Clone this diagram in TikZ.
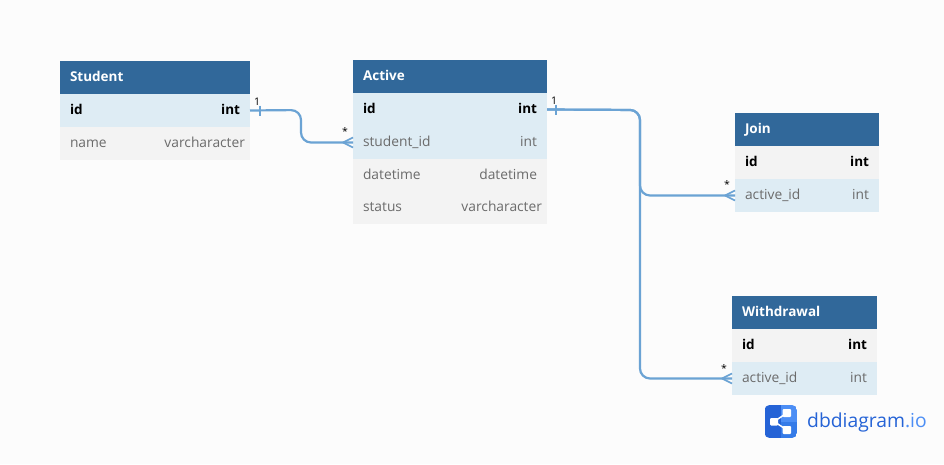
\documentclass[tikz,border=0pt]{standalone}
\usepackage{fontspec}
\setmainfont{Open Sans}
\usetikzlibrary{positioning,calc}
\definecolor{headblue}{HTML}{31689A}
\definecolor{linkrow}{HTML}{DEECF4}
\definecolor{plainrow}{HTML}{F3F3F3}
\definecolor{relblue}{HTML}{6BA3D4}
\definecolor{logodark}{HTML}{2563D6}
\definecolor{logomid}{HTML}{357BE8}
\definecolor{logolight}{HTML}{4C8EF5}
\definecolor{paper}{HTML}{FCFCFC}

\begin{document}
\begin{tikzpicture}[
  x=1pt, y=-1pt,
  cell/.style={anchor=north west, inner xsep=10pt, inner ysep=0pt, outer sep=0pt,
    minimum height=33pt, text height=11pt, text depth=2.5pt, font=\fontsize{13.8}{15}\selectfont},
  header/.style={cell, fill=headblue, text=white, font=\fontsize{13.5}{15}\selectfont\bfseries},
  keyrow/.style={font=\fontsize{13.5}{15}\selectfont\bfseries, text=black},
  fieldrow/.style={text=black!58},
  link/.style={fill=linkrow},
  plain/.style={fill=plainrow},
  rel/.style={draw=relblue, line width=2.2pt, rounded corners=10pt},
  card/.style={inner sep=0pt, font=\fontsize{10.5}{11}\selectfont, text=black},
  crow/.pic={
    \draw[relblue, line width=1.6pt] (-10,0) -- (0,-5) (-10,0) -- (0,5);
  },
  onetick/.pic={
    \draw[relblue, line width=1.6pt] (0,-5) -- (0,5);
  }
]
  \useasboundingbox[fill=paper] (0,0) rectangle (944,464);

  % Student
  \node[header, text width=170pt] (student) at (60,61) {Student};
  \node[cell, keyrow, link, text width=170pt, below=0pt of student] (studentid) {id\hfill int};
  \node[cell, fieldrow, plain, text width=170pt, below=0pt of studentid] (studentname) {name\hfill varcharacter\hspace*{-5pt}};

  % Active
  \node[header, text width=174pt] (active) at (353,60) {Active};
  \node[cell, keyrow, link, text width=174pt, below=0pt of active] (activeid) {id\hfill int};
  \node[cell, fieldrow, link, text width=174pt, below=0pt of activeid] (activestudent) {student\_id\hfill int};
  \node[cell, fieldrow, plain, text width=174pt, below=0pt of activestudent, minimum height=32pt] (activedate) {datetime\hfill datetime};
  \node[cell, fieldrow, plain, text width=174pt, below=0pt of activedate] (activestatus) {status\hfill varcharacter\hspace*{-5pt}};

  % Join
  \node[header, text width=124pt] (join) at (735,113) {Join};
  \node[cell, keyrow, plain, text width=124pt, below=0pt of join] (joinid) {id\hfill int};
  \node[cell, fieldrow, link, text width=124pt, below=0pt of joinid] (joinactive) {active\_id\hfill int};

  % Withdrawal
  \node[header, text width=125pt] (withdrawal) at (732,296) {Withdrawal};
  \node[cell, keyrow, plain, text width=125pt, below=0pt of withdrawal] (withdrawalid) {id\hfill int};
  \node[cell, fieldrow, link, text width=125pt, below=0pt of withdrawalid] (withdrawalactive) {active\_id\hfill int};

  % relations
  \coordinate (bendA) at (301,110);
  \coordinate (bendB) at (640,110);
  \draw[rel] (studentid.east) -- (bendA) |- (activestudent.west);
  \draw[rel] (activeid.east) -- (bendB) |- (joinactive.west);
  \draw[rel] (activeid.east) -- (bendB) |- (withdrawalactive.west);

  \pic at ($(studentid.east)+(10,0)$) {onetick};
  \pic at ($(activeid.east)+(9,0)$) {onetick};
  \pic at (activestudent.west) {crow};
  \pic at (joinactive.west) {crow};
  \pic at (withdrawalactive.west) {crow};

  \node[card] (oneA) at (257,102) {1};
  \node[card] (oneB) at (554,101) {1};
  \node[card] (manyA) at (345,132) {*};
  \node[card] (manyB) at (727,185) {*};
  \node[card] (manyC) at (724,369) {*};

  % logo
  \begin{scope}
    \clip[rounded corners=5pt] (764.5,405) rectangle (797,438);
    \fill[logodark] (764.5,405) rectangle (781,438);
    \fill[logolight] (781,405) rectangle (797,421.5);
    \fill[logomid] (781,421.5) rectangle (797,438);
  \end{scope}
  \draw[white, line width=1.5pt] (774,421.5) -- (787,413) (774,421.5) -- (787,430);
  \fill[white, rounded corners=1pt] (770,418) rectangle (778,425.5)
    (782.5,409) rectangle (791,417) (782.5,426) rectangle (791,434);
  \node[inner sep=0pt, anchor=west, font=\fontsize{19.3}{22}\selectfont] (brand) at (807,422)
    {\textcolor{logodark}{dbdiagram}\textcolor{logolight}{.io}};
\end{tikzpicture}
\end{document}
